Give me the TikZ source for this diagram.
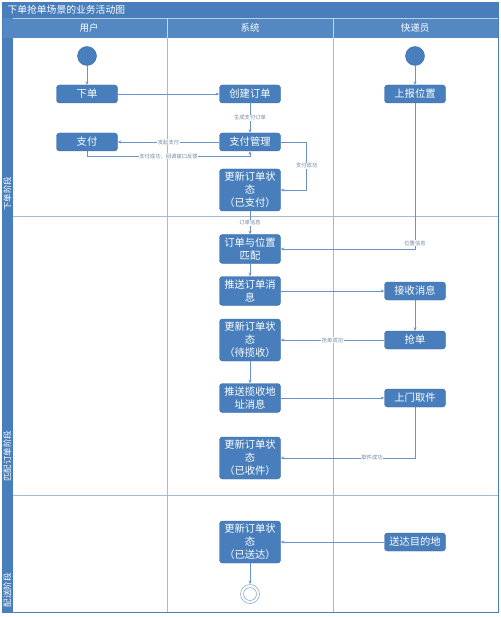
\documentclass[tikz,border=0pt]{standalone}
\usepackage{fontspec}
\setmainfont{Noto Sans CJK SC}
\usetikzlibrary{arrows.meta}
\definecolor{titleblue}{RGB}{72,126,187}
\definecolor{headblue}{RGB}{84,136,195}
\definecolor{actblue}{RGB}{72,126,187}
\definecolor{actborder}{RGB}{60,108,165}
\definecolor{lanegray}{RGB}{165,185,210}
\definecolor{connblue}{RGB}{105,148,200}
\definecolor{lblgray}{RGB}{115,135,165}
\definecolor{endblue}{RGB}{140,172,212}
\tikzset{
  act/.style={rectangle, rounded corners=3pt, fill=actblue, draw=actborder, line width=0.4pt,
    text=white, minimum width=61pt, minimum height=18pt, inner sep=1pt, align=center,
    font=\fontsize{10.3}{13}\selectfont},
  startnode/.style={circle, fill=actblue, draw=actborder, line width=0.4pt, minimum size=19pt, inner sep=0pt},
  endnode/.style={circle, draw=endblue, line width=0.6pt, minimum size=19pt, inner sep=0pt,
    path picture={\draw[endblue, line width=0.6pt] (path picture bounding box.center) circle (6.5pt);}},
  conn/.style={draw=connblue, line width=0.6pt, -{Stealth[length=3.5pt,width=3pt]}},
  lbl/.style={font=\fontsize{5.3}{6}\selectfont, text=lblgray, fill=white, inner sep=0.6pt},
  lane/.style={draw=lanegray, line width=0.6pt},
  headtxt/.style={text=white, font=\fontsize{9.5}{10}\selectfont},
  phasetxt/.style={text=white, font=\fontsize{8.5}{9}\selectfont, rotate=90, inner sep=0pt}
}
\begin{document}
\begin{tikzpicture}[x=1pt,y=-1pt]
\useasboundingbox (0,0) rectangle (500,617);
% frame
\fill[white] (0,0) rectangle (500,617);
\fill[titleblue] (2,2) rectangle (498,18);
\fill[headblue] (2,18) rectangle (498,38);
\fill[titleblue] (2,38) rectangle (13,612);
\draw[lanegray!70, line width=0.4pt] (13,18) -- (498,18);
\draw[lanegray!60, line width=0.4pt] (167,18) -- (167,38) (333,18) -- (333,38);
\draw[lane] (167,38) -- (167,612);
\draw[lane] (333,38) -- (333,612);
\draw[lane] (13,216) -- (498,216);
\draw[lane] (13,495) -- (498,495);
\draw[lane] (2,612) -- (498,612);
\draw[lane] (498,38) -- (498,612);
\draw[titleblue, line width=0.6pt] (2,2) rectangle (498,612);
% titles
\node[headtxt, anchor=west, font=\fontsize{9.8}{10}\selectfont] (title) at (4,10) {下单抢单场景的业务活动图};
\node[headtxt] (h1) at (89,28) {用户};
\node[headtxt] (h2) at (250,28) {系统};
\node[headtxt] (h3) at (415,28) {快递员};
\node[phasetxt] (p1) at (7.5,194) {下单阶段};
\node[phasetxt] (p2) at (7.5,456) {匹配订单阶段};
\node[phasetxt] (p3) at (7.5,590) {配送阶段};
% nodes
\node[startnode] (s1) at (87,56) {};
\node[startnode] (s2) at (415,56) {};
\node[act] (order) at (87,94) {下单};
\node[act] (create) at (250,94) {创建订单};
\node[act] (report) at (415,94) {上报位置};
\node[act] (pay) at (87,142) {支付};
\node[act] (pm) at (250,142) {支付管理};
\node[act, minimum height=42pt] (u1) at (250,190) {更新订单状\\态\\（已支付）};
\node[act, minimum height=29pt] (match) at (250,249) {订单与位置\\匹配};
\node[act, minimum height=29pt] (push) at (250,291) {推送订单消\\息};
\node[act] (recv) at (415,291) {接收消息};
\node[act, minimum height=42pt] (u2) at (250,340) {更新订单状\\态\\（待揽收）};
\node[act] (grab) at (415,340) {抢单};
\node[act, minimum height=29pt] (push2) at (250,398) {推送揽收地\\址消息};
\node[act] (pick) at (415,398) {上门取件};
\node[act, minimum height=42pt] (u3) at (250,458) {更新订单状\\态\\（已收件）};
\node[act, minimum height=42pt] (u4) at (250,542) {更新订单状\\态\\（已送达）};
\node[act] (deliver) at (415,542) {送达目的地};
\node[endnode] (e) at (250,594) {};
% connectors
\draw[conn] (s1) -- (order);
\draw[conn] (s2) -- (report);
\draw[conn] (order) -- (create);
\draw[conn] (create) -- node[lbl] {生成支付订单} (pm);
\draw[conn] (pm) -- node[lbl] {发起支付} (pay);
\draw[conn] (pay.south) -- ++(0,5) -| node[lbl, pos=0.25] {支付成功，回调接口反馈} (pm.south);
\draw[conn] (pm.east) -- ++(26,0) |- node[lbl, pos=0.25] {支付成功} (u1.east);
\draw[conn] (u1) -- node[lbl] {订单信息} (match);
\draw[conn] (report.south) |- node[lbl, pos=0.48] {位置信息} (match.east);
\draw[conn] (match) -- (push);
\draw[conn] (push) -- (recv);
\draw[conn] (recv) -- (grab);
\draw[conn] (grab) -- node[lbl] {抢单成功} (u2);
\draw[conn] (u2) -- (push2);
\draw[conn] (push2) -- (pick);
\draw[conn] (pick.south) |- node[lbl, pos=0.66] {取件成功} (u3.east);
\draw[conn] (deliver) -- (u4);
\draw[conn] (u4) -- (e);
\end{tikzpicture}
\end{document}
